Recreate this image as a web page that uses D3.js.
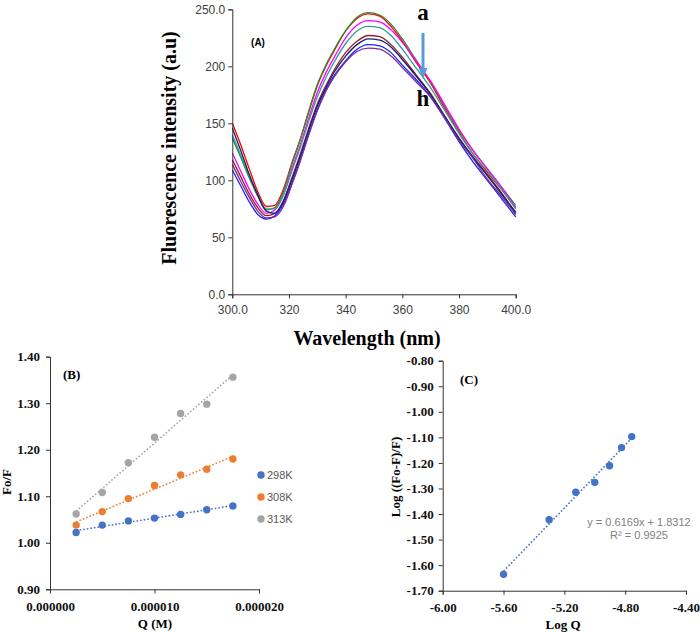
<!DOCTYPE html>
<html>
<head>
<meta charset="utf-8">
<script src="https://cdn.jsdelivr.net/npm/d3@7"></script>
<style>
  body { margin: 0; background: #fff; }
</style>
</head>
<body>
<svg id="chart" width="700" height="632"></svg>
<script>
// ---- panel A : emission spectra a..h ----
const wavelengths = [300,303,306,309,312,315,318,321,324,327,330,333,336,340,344,348,352,356,360,365,370,375,380,385,390,395,400];
const specNames = ["a","b","c","d","e","f","g","h"];
const specColors = ["#ff0000","#2e8b2e","#ff00ff","#2f9c9c","#8b2323","#1c1c6b","#2020ff","#7a2a9a"];
const specA = [150,131,110,90,77,78,92,115,136,160,183,200,214,231,242,246,244,235,222,203,185,163,142,123,107,92,76];
const specB = [137,120,102,86,74,76,90,114,136,161,184,201,215,231,243,247,245,237,224,205,186,165,144,126,110,94,78];
const specC = [124,108,92,79,71,74,87,110,131,155,177,194,208,225,236,240,239,232,221,204,187,166,145,126,110,94,76];
const specD = [140,122,103,87,75,75,87,108,129,152,173,190,204,220,231,235,234,227,215,198,181,161,141,123,108,92,75];
const specE = [118,103,88,76,69,71,82,102,123,146,167,183,197,212,222,227,226,219,208,192,176,156,137,120,105,89,71];
const specF = [146,126,105,87,73,71,81,100,121,144,165,181,195,209,219,224,223,217,206,191,175,156,137,120,104,88,72];
const specG = [109,95,81,70,66,69,79,97,118,141,162,179,192,205,215,219,218,212,201,188,173,154,134,116,100,84,68];
const specH = [114,99,85,73,67,68,77,96,117,140,161,178,191,204,213,216,215,209,199,186,173,155,135,119,101,86,70];
const spectra = [specA, specB, specC, specD, specE, specF, specG, specH];
const wlTicks = [300,320,340,360,380,400];
const intTicks = [0,50,100,150,200,250];

// ---- panel B : Stern-Volmer ----
const quencher = [0.0000025,0.000005,0.0000075,0.00001,0.0000125,0.000015,0.0000175];
const temps = ["298K","308K","313K"];
const tempColors = ["#4472c4","#ed7d31","#a5a5a5"];
const f0f298 = [1.022,1.038,1.047,1.053,1.061,1.071,1.079];
const f0f308 = [1.038,1.067,1.095,1.123,1.146,1.158,1.180];
const f0f313 = [1.062,1.108,1.172,1.227,1.278,1.298,1.356];
const qTicks = [0,0.00001,0.00002];
const f0fTicks = [0.9,1.0,1.1,1.2,1.3,1.4];

// ---- panel C : double log ----
const logQ = [-5.60,-5.30,-5.125,-5.00,-4.903,-4.824,-4.757];
const logRatio = [-1.636,-1.422,-1.315,-1.276,-1.211,-1.140,-1.097];
const fitSlope = 0.6169, fitIntercept = 1.8312;
const fitLabels = ["y = 0.6169x + 1.8312", "R² = 0.9925"];
const logQTicks = [-6.0,-5.6,-5.2,-4.8,-4.4];
const logRatioTicks = [-0.8,-0.9,-1.0,-1.1,-1.2,-1.3,-1.4,-1.5,-1.6,-1.7];

const SERIF = "'Times New Roman','Liberation Serif',serif";
const SANS = "Arial,'Liberation Sans',sans-serif";

const svg = d3.select("#chart");

function styleAxis(g, font, size, weight, color) {
    g.select(".domain").attr("stroke", "#333");
    g.selectAll(".tick line").attr("stroke", "#333");
    g.selectAll(".tick text")
        .style("font-family", font)
        .style("font-size", size + "px")
        .style("font-weight", weight)
        .attr("fill", color);
}

function linFit(xs, ys) {
    const mx = d3.mean(xs), my = d3.mean(ys);
    const b = d3.sum(xs, (x, i) => (x - mx) * (ys[i] - my)) / d3.sum(xs, x => (x - mx) * (x - mx));
    return [b, my - b * mx];
}

// ================= panel A =================
const xA = d3.scaleLinear().domain([300, 400]).range([232.3, 515.7]);
const yA = d3.scaleLinear().domain([0, 250]).range([294.3, 9.3]);

const lineA = d3.line()
    .x((d, i) => xA(wavelengths[i]))
    .y(d => yA(d))
    .curve(d3.curveMonotoneX);

const panelA = svg.append("g").attr("id", "panelA");

panelA.append("g")
    .selectAll("path")
    .data(spectra)
    .join("path")
    .attr("d", lineA)
    .attr("fill", "none")
    .attr("stroke", (d, i) => specColors[i])
    .attr("stroke-width", 1.3);

panelA.append("g")
    .attr("transform", `translate(0,${yA(0)})`)
    .call(d3.axisBottom(xA).tickValues(wlTicks).tickSize(4).tickPadding(7)
        .tickFormat(d => (d == 300 || d == 400) ? d.toFixed(1) : d))
    .call(g => styleAxis(g, SANS, 12, "normal", "#404040"));

panelA.append("g")
    .attr("transform", `translate(${xA(300)},0)`)
    .call(d3.axisLeft(yA).tickValues(intTicks).tickSize(4).tickPadding(3)
        .tickFormat(d => (d == 0 || d == 250) ? d.toFixed(1) : d))
    .call(g => styleAxis(g, SANS, 12, "normal", "#404040"));

panelA.append("text")
    .attr("x", 258).attr("y", 46)
    .attr("text-anchor", "middle")
    .style("font-family", SANS).style("font-size", "10px").style("font-weight", "bold")
    .text("(A)");

panelA.append("text")
    .attr("x", 423).attr("y", 20)
    .attr("text-anchor", "middle")
    .style("font-family", SERIF).style("font-size", "23px").style("font-weight", "bold")
    .text(specNames[0]);

panelA.append("text")
    .attr("x", 423).attr("y", 106)
    .attr("text-anchor", "middle")
    .style("font-family", SERIF).style("font-size", "23px").style("font-weight", "bold")
    .text(specNames[specNames.length - 1]);

// arrow a -> h
panelA.append("line")
    .attr("x1", 423).attr("y1", 33).attr("x2", 423).attr("y2", 69)
    .attr("stroke", "#5b9bd5").attr("stroke-width", 3);
panelA.append("path")
    .attr("d", "M418.5,68 L427.5,68 L423,79 Z")
    .attr("fill", "#5b9bd5");

panelA.append("text")
    .attr("x", 367).attr("y", 345)
    .attr("text-anchor", "middle")
    .style("font-family", SERIF).style("font-size", "20px").style("font-weight", "bold")
    .text("Wavelength (nm)");

panelA.append("text")
    .attr("transform", "translate(176,148) rotate(-90)")
    .attr("text-anchor", "middle")
    .style("font-family", SERIF).style("font-size", "20px").style("font-weight", "bold")
    .text("Fluorescence intensity (a.u)");

// ================= panel B =================
const xB = d3.scaleLinear().domain([0, 0.00002]).range([50, 259]);
const yB = d3.scaleLinear().domain([0.9, 1.4]).range([589.3, 356.7]);
const panelB = svg.append("g").attr("id", "panelB");

panelB.append("g")
    .attr("transform", `translate(0,${yB(0.9)})`)
    .call(d3.axisBottom(xB).tickValues(qTicks).tickSize(4).tickPadding(8)
        .tickFormat(d => d.toFixed(6)))
    .call(g => styleAxis(g, SERIF, 13, "bold", "#111"));

panelB.append("g")
    .attr("transform", `translate(${xB(0)},0)`)
    .call(d3.axisLeft(yB).tickValues(f0fTicks).tickSize(4).tickPadding(6)
        .tickFormat(d => d.toFixed(2)))
    .call(g => styleAxis(g, SERIF, 13, "bold", "#111"));

[f0f298, f0f308, f0f313].forEach((ys, k) => {
    const [b, a] = linFit(quencher, ys);
    const x0 = quencher[0], x1 = quencher[quencher.length - 1];
    panelB.append("line")
        .attr("x1", xB(x0)).attr("y1", yB(a + b * x0))
        .attr("x2", xB(x1)).attr("y2", yB(a + b * x1))
        .attr("stroke", tempColors[k]).attr("stroke-width", 1.6)
        .attr("stroke-dasharray", "1.6,2");
    panelB.append("g")
        .selectAll("circle")
        .data(ys)
        .join("circle")
        .attr("cx", (d, i) => xB(quencher[i]))
        .attr("cy", d => yB(d))
        .attr("r", 3.7)
        .attr("fill", tempColors[k]);
});

const legend = panelB.append("g").attr("transform", "translate(261,475)");
temps.forEach((t, k) => {
    const row = legend.append("g").attr("transform", `translate(0,${k * 22})`);
    row.append("circle").attr("r", 3.7).attr("fill", tempColors[k]);
    row.append("text")
        .attr("x", 6).attr("y", 4)
        .style("font-family", SANS).style("font-size", "11px")
        .attr("fill", "#595959")
        .text(t);
});

panelB.append("text")
    .attr("x", 63).attr("y", 379)
    .style("font-family", SERIF).style("font-size", "13px").style("font-weight", "bold")
    .text("(B)");

panelB.append("text")
    .attr("x", 155).attr("y", 628)
    .attr("text-anchor", "middle")
    .style("font-family", SERIF).style("font-size", "13px").style("font-weight", "bold")
    .text("Q (M)");

panelB.append("text")
    .attr("transform", "translate(11,482) rotate(-90)")
    .attr("text-anchor", "middle")
    .style("font-family", SERIF).style("font-size", "13px").style("font-weight", "bold")
    .text("Fo/F");

// ================= panel C =================
const xC = d3.scaleLinear().domain([-6.0, -4.4]).range([442.7, 686]);
const yC = d3.scaleLinear().domain([-1.7, -0.8]).range([590.7, 360.7]);
const panelC = svg.append("g").attr("id", "panelC");

panelC.append("g")
    .attr("transform", `translate(0,${yC(-1.7)})`)
    .call(d3.axisBottom(xC).tickValues(logQTicks).tickSize(4).tickPadding(8)
        .tickFormat(d => d.toFixed(2)))
    .call(g => styleAxis(g, SERIF, 13, "bold", "#111"));

panelC.append("g")
    .attr("transform", `translate(${xC(-6.0)},0)`)
    .call(d3.axisLeft(yC).tickValues(logRatioTicks).tickSize(4).tickPadding(5)
        .tickFormat(d => d.toFixed(2)))
    .call(g => styleAxis(g, SERIF, 13, "bold", "#111"));

const lx0 = logQ[0], lx1 = logQ[logQ.length - 1];
panelC.append("line")
    .attr("x1", xC(lx0)).attr("y1", yC(fitSlope * lx0 + fitIntercept))
    .attr("x2", xC(lx1)).attr("y2", yC(fitSlope * lx1 + fitIntercept))
    .attr("stroke", "#4472c4").attr("stroke-width", 1.6)
    .attr("stroke-dasharray", "1.6,2");

panelC.append("g")
    .selectAll("circle")
    .data(logRatio)
    .join("circle")
    .attr("cx", (d, i) => xC(logQ[i]))
    .attr("cy", d => yC(d))
    .attr("r", 3.7)
    .attr("fill", "#4472c4");

panelC.selectAll(".fitLabel")
    .data(fitLabels)
    .join("text")
    .attr("class", "fitLabel")
    .attr("x", 639).attr("y", (d, i) => 526 + i * 13)
    .attr("text-anchor", "middle")
    .style("font-family", SANS).style("font-size", "11px")
    .attr("fill", "#7f7f7f")
    .text(d => d);

panelC.append("text")
    .attr("x", 460).attr("y", 384)
    .style("font-family", SERIF).style("font-size", "13px").style("font-weight", "bold")
    .text("(C)");

panelC.append("text")
    .attr("x", 563).attr("y", 629)
    .attr("text-anchor", "middle")
    .style("font-family", SERIF).style("font-size", "13px").style("font-weight", "bold")
    .text("Log Q");

panelC.append("text")
    .attr("transform", "translate(400,477) rotate(-90)")
    .attr("text-anchor", "middle")
    .style("font-family", SERIF).style("font-size", "13px").style("font-weight", "bold")
    .text("Log ((Fo-F)/F)");
</script>
</body>
</html>
